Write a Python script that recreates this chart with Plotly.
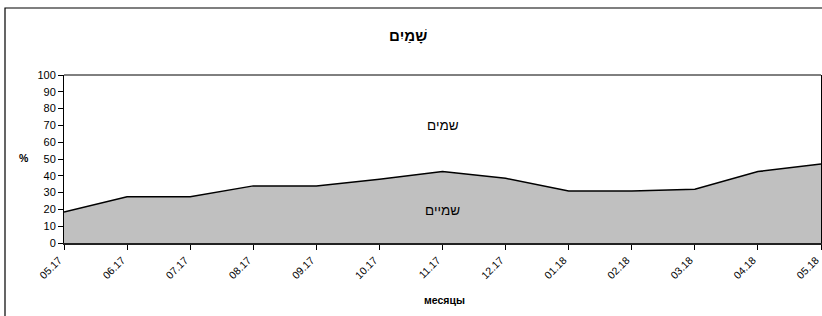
import plotly.graph_objects as go

months = ["05.17", "06.17", "07.17", "08.17", "09.17", "10.17", "11.17",
          "12.17", "01.18", "02.18", "03.18", "04.18", "05.18"]
values = [18.5, 27.5, 27.5, 34, 34, 38, 42.5, 38.5, 31, 31, 32, 42.5, 47]
y_ticks = list(range(0, 101, 10))

title_text = "שָׁמַיִם"
upper_label = "שמים"
lower_label = "שמיים"
x_title = "месяцы"
y_title = "%"

W, H = 822, 316
L, R, T, B = 64, 1, 75, 73
pw = W - L - R
ph = H - T - B


def px(x):
    return (x - L) / pw


def py(y):
    return (H - B - y) / ph


FONT = "Liberation Sans, Arial, sans-serif"

fig = go.Figure()
fig.add_trace(go.Scatter(
    x=months, y=values, mode="lines", fill="tozeroy",
    fillcolor="#C0C0C0", line=dict(color="#000000", width=1.5),
    hoverinfo="x+y", showlegend=False,
))

fig.update_layout(
    width=W, height=H,
    margin=dict(l=L, r=R, t=T, b=B, pad=0, autoexpand=False),
    paper_bgcolor="white", plot_bgcolor="white",
    font=dict(family=FONT, size=11, color="#000000"),
    xaxis=dict(
        type="category", range=[0, len(months) - 1], automargin=False,
        showgrid=False, zeroline=False,
        showline=True, linecolor="#222222", linewidth=2,
        ticks="outside", ticklen=5, tickcolor="#000000", tickwidth=1,
        tickangle=-45, tickfont=dict(size=10.5, family=FONT),
        ticklabelshift=-5,
    ),
    yaxis=dict(
        range=[0, 100], tickvals=y_ticks, showgrid=False, zeroline=False,
        automargin=False,
        showline=True, linecolor="#000000", linewidth=1, mirror=True,
        ticks="outside", ticklen=5, tickcolor="#000000",
        tickfont=dict(size=11, family=FONT),
    ),
    shapes=[
        dict(type="line", xref="paper", yref="paper", x0=0, x1=1, y0=1, y1=1,
             line=dict(color="#000000", width=1)),
        dict(type="rect", xref="paper", yref="paper",
             x0=px(5), x1=px(840), y0=py(8), y1=py(340),
             line=dict(color="#000000", width=1.2), layer="below"),
    ],
    annotations=[
        dict(text=f"<b>{title_text}</b>", xref="paper", yref="paper",
             x=px(408), y=py(36), xanchor="center", yanchor="middle",
             showarrow=False, font=dict(size=15, family=FONT)),
        dict(text=upper_label, xref="x", yref="y", x=6, y=70,
             xanchor="center", yanchor="middle",
             showarrow=False, font=dict(size=13.5, family=FONT)),
        dict(text=lower_label, xref="x", yref="y", x=6, y=19.5,
             xanchor="center", yanchor="middle",
             showarrow=False, font=dict(size=13.5, family=FONT)),
        dict(text=f"<b>{y_title}</b>", xref="paper", yref="paper",
             x=px(24), y=py(158), xanchor="center", yanchor="middle",
             showarrow=False, font=dict(size=10.5, family=FONT)),
        dict(text=f"<b>{x_title}</b>", xref="paper", yref="paper",
             x=px(445), y=py(300), xanchor="center", yanchor="middle",
             showarrow=False, font=dict(size=10.5, family=FONT)),
    ],
)

fig.write_html(
    "out.html",
    config={"displayModeBar": False},
    post_script="document.body.style.margin='0';"
                "document.body.style.overflow='hidden';",
)
